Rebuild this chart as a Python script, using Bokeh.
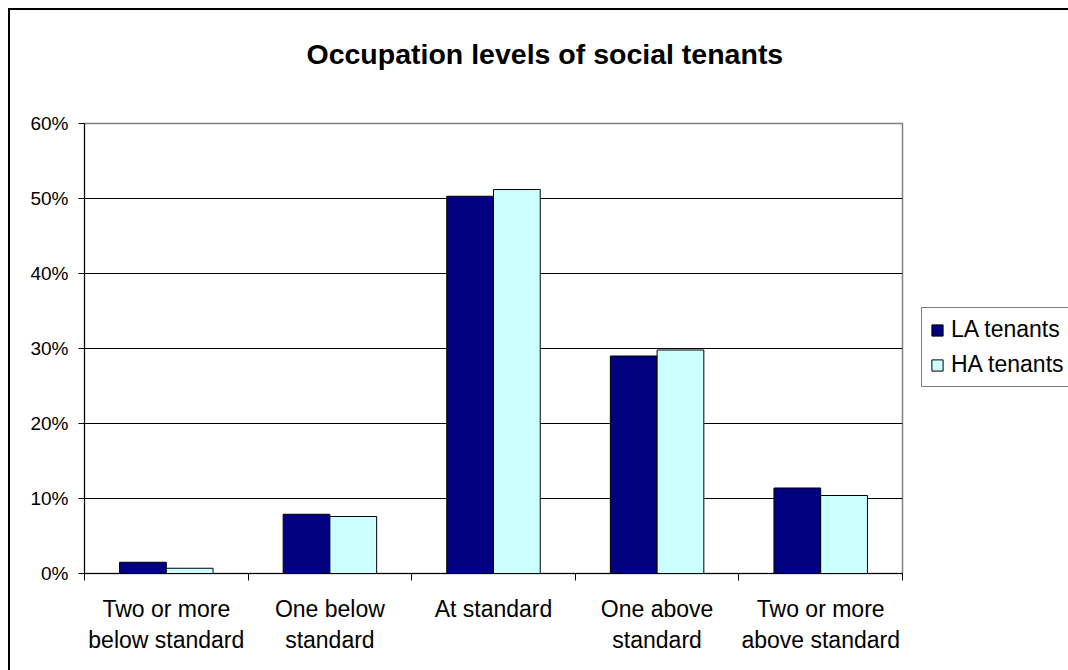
import numpy as np
from bokeh.plotting import figure
from bokeh.layouts import row
from bokeh.models import (ColumnDataSource, Range1d, FixedTicker, NumeralTickFormatter,
                          Legend, LegendItem, Title)
from bokeh.embed import file_html
from bokeh.resources import INLINE

categories = ["Two or more\nbelow standard", "One below\nstandard", "At standard",
              "One above\nstandard", "Two or more\nabove standard"]
la_tenants = [0.015, 0.079, 0.503, 0.290, 0.114]
ha_tenants = [0.007, 0.076, 0.512, 0.298, 0.104]
y_ticks = [0.0, 0.1, 0.2, 0.3, 0.4, 0.5, 0.6]
title_text = "Occupation levels of social tenants"
series_names = ["LA tenants", "HA tenants"]
la_color, ha_color = "#000080", "#CCFFFF"

n = len(categories)
bar_w = 1.0 / 3.5
centers = np.arange(n) + 0.5

src = ColumnDataSource(dict(
    x_la=centers - bar_w / 2,
    x_ha=centers + bar_w / 2,
    la=la_tenants,
    ha=ha_tenants,
))

H = 660
p = figure(width=894, height=H, output_backend="svg", toolbar_location=None,
           x_range=Range1d(0, n), y_range=Range1d(0, 0.6),
           min_border_left=74, min_border_right=2, min_border_top=113, min_border_bottom=97)

p.outline_line_color = "#808080"
p.outline_line_width = 1.5
p.background_fill_color = "white"
p.border_fill_color = "white"

p.vbar(x="x_la", top="la", width=bar_w, source=src,
       fill_color=la_color, line_color="black", line_width=1)
p.vbar(x="x_ha", top="ha", width=bar_w, source=src,
       fill_color=ha_color, line_color="black", line_width=1)

# y axis
p.yaxis.ticker = FixedTicker(ticks=y_ticks)
p.yaxis.formatter = NumeralTickFormatter(format="0%")
p.yaxis.major_tick_out = 6
p.yaxis.major_tick_in = 0
p.yaxis.minor_tick_out = 0
p.yaxis.minor_tick_in = 0
p.yaxis.major_label_standoff = 10
p.yaxis.major_label_text_font = "Liberation Sans"
p.yaxis.major_label_text_font_size = "19px"
p.yaxis.major_label_text_color = "black"
p.yaxis.axis_line_color = "black"
p.yaxis.major_tick_line_color = "black"

# x axis: labels at centres, tick marks at boundaries
p.xaxis.ticker = FixedTicker(ticks=list(centers), minor_ticks=list(range(n + 1)))
p.xaxis.major_label_overrides = {float(c): lab for c, lab in zip(centers, categories)}
p.xaxis.major_tick_out = 0
p.xaxis.major_tick_in = 0
p.xaxis.minor_tick_out = 7
p.xaxis.minor_tick_in = 0
p.xaxis.minor_tick_line_color = "black"
p.xaxis.major_label_standoff = 15
p.xaxis.major_label_text_font = "Liberation Sans"
p.xaxis.major_label_text_font_size = "23px"
p.xaxis.major_label_text_color = "black"
p.xaxis.major_label_text_line_height = 1.2
p.xaxis.axis_line_color = "black"

p.xgrid.grid_line_color = None
p.ygrid.grid_line_color = "black"
p.ygrid.grid_line_width = 1

# title (a blank second line lifts the text within its panel)
p.title = Title(text=title_text + "\n\u00a0", align="left", offset=222,
                text_font="Liberation Sans", text_font_style="bold",
                text_font_size="28.5px", text_color="black", standoff=43)

# legend panel (separate canvas to the right of the plot area)
p2 = figure(width=164, height=H, output_backend="svg", toolbar_location=None,
            x_range=Range1d(-20, -19), y_range=Range1d(0, 1),
            x_axis_location=None, y_axis_location=None,
            min_border_left=0, min_border_right=0, min_border_top=0, min_border_bottom=0)
p2.outline_line_color = None
p2.xgrid.grid_line_color = None
p2.ygrid.grid_line_color = None
p2.background_fill_color = "white"
p2.border_fill_color = "white"
g_la = p2.vbar(x="x_la", top="la", width=bar_w, source=src,
               fill_color=la_color, line_color="black", line_width=1)
g_ha = p2.vbar(x="x_ha", top="ha", width=bar_w, source=src,
               fill_color=ha_color, line_color="black", line_width=1)

legend = Legend(items=[LegendItem(label=series_names[0], renderers=[g_la]),
                       LegendItem(label=series_names[1], renderers=[g_ha])],
                location=(17, 186))
legend.label_text_font = "Liberation Sans"
legend.label_text_font_size = "23px"
legend.label_text_color = "black"
legend.glyph_width = 14
legend.glyph_height = 14
legend.label_height = 24
legend.label_standoff = 7
legend.spacing = 8
legend.padding = 8
legend.margin = 0
legend.border_line_color = "black"
legend.border_line_width = 1
legend.background_fill_color = "white"
legend.background_fill_alpha = 1
p2.add_layout(legend, "center")

layout = row(p, p2)
layout.spacing = 0
layout.margin = (8, 0, 0, 8)
layout.styles = {"border-left": "2px solid black", "border-top": "2px solid black"}

open("out.html", "w").write(file_html(layout, INLINE))
